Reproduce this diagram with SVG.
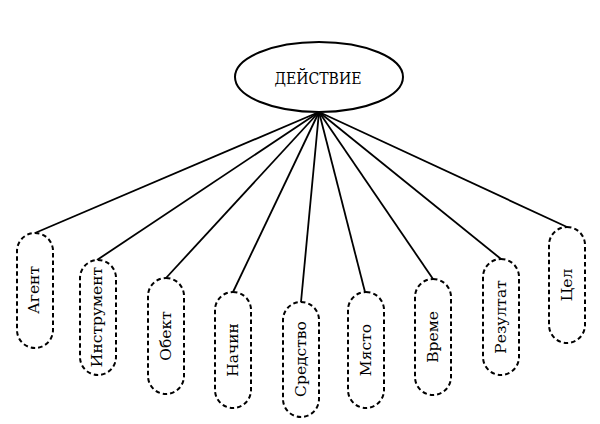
<svg xmlns="http://www.w3.org/2000/svg" width="600" height="424" viewBox="0 0 600 424">
<style>
.n{fill:#fff;stroke:#000;stroke-width:2;stroke-dasharray:4.5 3}
.t{font-family:"DejaVu Serif","Liberation Serif",serif;font-size:15.5px;fill:#000;text-anchor:middle;dominant-baseline:central}
.c line{stroke:#000;stroke-width:1.8}
</style>
<rect width="600" height="424" fill="#fff"/>
<g class="c" id="connectors">
<line x1="319" y1="112" x2="35" y2="233"/>
<line x1="319" y1="112" x2="97" y2="260"/>
<line x1="319" y1="112" x2="166" y2="278"/>
<line x1="319" y1="112" x2="233" y2="292"/>
<line x1="319" y1="112" x2="301" y2="302"/>
<line x1="319" y1="112" x2="365" y2="292"/>
<line x1="319" y1="112" x2="433" y2="279"/>
<line x1="319" y1="112" x2="501" y2="259"/>
<line x1="319" y1="112" x2="567" y2="227"/>
</g>
<g id="root">
<ellipse cx="319" cy="77" rx="84" ry="35" fill="#fff" stroke="#000" stroke-width="2"/>
<text class="t" x="318" y="78" style="font-size:17px" textLength="87" lengthAdjust="spacingAndGlyphs">ДЕЙСТВИЕ</text>
</g>
<g id="n1"><rect class="n" x="17" y="233" width="36" height="115" rx="18"/><text class="t" transform="translate(34,290) rotate(-90)">Агент</text></g>
<g id="n2"><rect class="n" x="80" y="260" width="36" height="115" rx="18"/><text class="t" transform="translate(97,317) rotate(-90)">Инструмент</text></g>
<g id="n3"><rect class="n" x="148" y="278" width="36" height="116" rx="18"/><text class="t" transform="translate(166,336) rotate(-90)">Обект</text></g>
<g id="n4"><rect class="n" x="215" y="292" width="36" height="116" rx="18"/><text class="t" transform="translate(233,350) rotate(-90)">Начин</text></g>
<g id="n5"><rect class="n" x="283" y="302" width="36" height="115" rx="18"/><text class="t" transform="translate(301,359) rotate(-90)">Средство</text></g>
<g id="n6"><rect class="n" x="348" y="292" width="36" height="116" rx="18"/><text class="t" transform="translate(366,350) rotate(-90)">Място</text></g>
<g id="n7"><rect class="n" x="415" y="279" width="36" height="116" rx="18"/><text class="t" transform="translate(433,337) rotate(-90)">Време</text></g>
<g id="n8"><rect class="n" x="483" y="259" width="36" height="116" rx="18"/><text class="t" transform="translate(501,317) rotate(-90)">Резултат</text></g>
<g id="n9"><rect class="n" x="549" y="227" width="36" height="116" rx="18"/><text class="t" transform="translate(567,285) rotate(-90)">Цел</text></g>
</svg>
